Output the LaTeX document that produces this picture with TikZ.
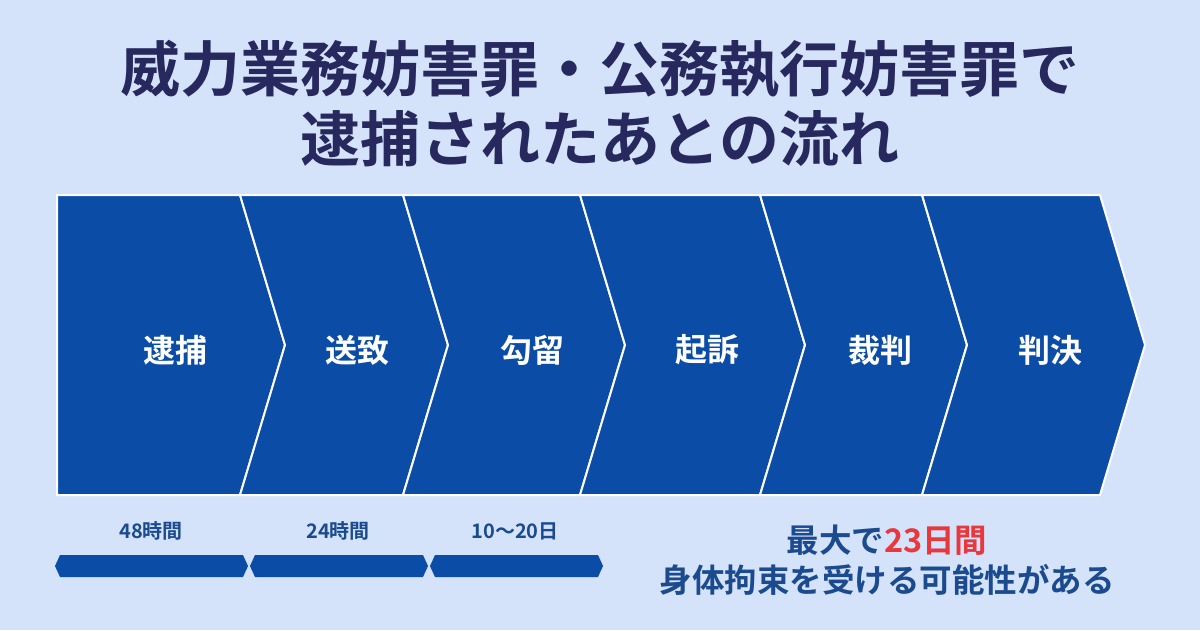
\documentclass[tikz,border=0pt]{standalone}
\usepackage{fontspec}
\setmainfont{Noto Sans CJK JP}[BoldFont={Noto Sans CJK JP Bold}]
\usepackage{tikz}
\usetikzlibrary{arrows.meta,calc}
\definecolor{bgblue}{HTML}{D4E3FA}
\definecolor{stepblue}{HTML}{0B4CA6}
\definecolor{titlenavy}{HTML}{27285E}
\definecolor{spantext}{HTML}{1B4A8E}
\definecolor{notered}{HTML}{E8383D}
\tikzset{
  stepbox/.style={fill=stepblue, draw=white, line width=2pt, line join=miter},
  steplabel/.style={text=white, font=\bfseries\fontsize{32}{38}\selectfont},
  spanbar/.style={fill=stepblue},
  spanlabel/.style={text=spantext, font=\bfseries\fontsize{20}{24}\selectfont},
  notetext/.style={text=spantext, font=\bfseries\fontsize{32.5}{40}\selectfont, align=center}
}
\begin{document}
\begin{tikzpicture}[x=1pt, y=-1pt]
  % hintergrund
  \fill[bgblue] (0,0) rectangle (1200,630);
  \useasboundingbox (0,0) rectangle (1200,630);

  % titel
  \node[text=titlenavy, font=\bfseries\fontsize{60}{70}\selectfont, align=center]
    (title) at (600,104) {威力業務妨害罪・公務執行妨害罪で\\逮捕されたあとの流れ};

  % parameter
  \def\top{195}  % oben
  \def\bot{495}  % unten
  \def\mid{345}  % spitze
  \def\tip{45}   % kerbe

  % pfeilkette
  \foreach \l/\r/\k in {57/240/0, 240/403/\tip, 403/580/\tip, 580/760/\tip,
                        760/922/\tip, 922/1100/\tip} {
    \draw[stepbox] (\l,\top) -- (\r,\top) -- (\r+\tip,\mid) -- (\r,\bot)
          -- (\l,\bot) -- (\l+\k,\mid) -- cycle;
  }

  % schritte
  \node[steplabel] (taiho)   at (175,350) {逮捕};
  \node[steplabel] (soti)    at (357,350) {送致};
  \node[steplabel] (koryu)   at (532,350) {勾留};
  \node[steplabel] (kiso)    at (707,350) {起訴};
  \node[steplabel] (saiban)  at (880,350) {裁判};
  \node[steplabel] (hanketu) at (1050,350) {判決};

  % fristen
  \foreach \a/\b in {55/248, 250/428, 430/603} {
    \fill[spanbar] (\a,566) -- (\a+5,555) -- (\b-5,555) -- (\b,566)
          -- (\b-5,577) -- (\a+5,577) -- cycle;
  }
  \node[spanlabel] (span1) at (151,531) {48時間};
  \node[spanlabel] (span2) at (338,531) {24時間};
  \node[spanlabel] (span3) at (515,531) {10〜20日};

  % hinweis
  \node[notetext] (note1) at (887,540) {最大で\textcolor{notered}{23日間}};
  \node[notetext] (note2) at (887,580) {身体拘束を受ける可能性がある};
\end{tikzpicture}
\end{document}
